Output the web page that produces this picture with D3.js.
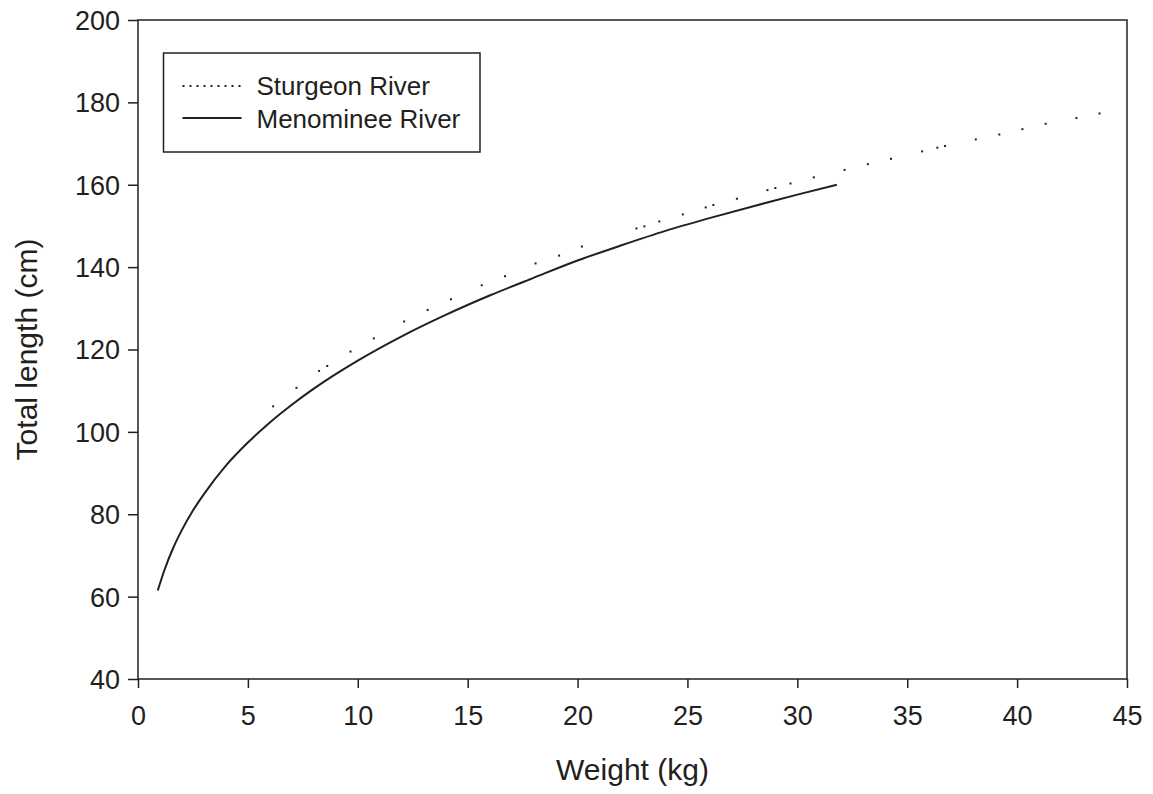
<!DOCTYPE html>
<html>
<head>
<meta charset="utf-8">
<script src="https://cdn.jsdelivr.net/npm/d3@7"></script>
<style>
  body { margin: 0; background: #fff; }
  text { font-family: "Liberation Sans", Arial, sans-serif; fill: #231f20; }
</style>
</head>
<body>
<script>
// Total length against weight for two rivers.

// Sturgeon River: individual dotted marks.
var sturgeonWeight = [6.15, 7.21, 8.24, 8.61, 9.67, 10.73, 12.11, 13.18, 14.24, 15.64,
                      16.7, 18.09, 19.16, 20.2, 22.68, 23.04, 23.72, 24.79, 25.83, 26.18,
                      27.25, 28.64, 29.0, 29.69, 30.75, 32.15, 33.21, 34.26, 35.68, 36.37,
                      36.72, 38.12, 39.19, 40.24, 41.3, 42.7, 43.75],
    sturgeonLength = [106.2, 110.7, 114.8, 116.0, 119.5, 122.7, 126.8, 129.6, 132.2, 135.6,
                      137.8, 140.9, 142.8, 145.0, 149.4, 149.9, 151.1, 152.8, 154.5, 155.1,
                      156.6, 158.7, 159.2, 160.3, 161.8, 163.6, 165.0, 166.3, 168.1, 169.0,
                      169.4, 171.0, 172.2, 173.5, 174.8, 176.2, 177.3];

// Menominee River: points along the solid curve.
var menomineeWeight = [0.9, 1.2, 1.6, 2, 2.5, 3, 4, 5, 6, 7, 8, 10, 12, 14, 16, 18,
                       20, 22, 24, 26, 28, 30, 31.8],
    menomineeLength = [61.5, 66.4, 71.8, 76.2, 80.9, 84.9, 91.8, 97.4, 102.3, 106.6, 110.5,
                       117.3, 123.2, 128.4, 133.1, 137.4, 141.6, 145.3, 148.8, 151.9,
                       154.8, 157.6, 160.0];

var xTicks = [0, 5, 10, 15, 20, 25, 30, 35, 40, 45],
    yTicks = [40, 60, 80, 100, 120, 140, 160, 180, 200],
    seriesNames = ['Sturgeon River', 'Menominee River'];

var outerWidth = 1153,
    outerHeight = 794,
    margin = { top: 20, right: 26, bottom: 115, left: 138 },
    width = outerWidth - margin.left - margin.right,
    height = outerHeight - margin.top - margin.bottom,
    ink = '#231f20';

var svg = d3.select('body').append('svg')
    .attr('width', outerWidth)
    .attr('height', outerHeight);

var g = svg.append('g')
    .attr('transform', 'translate(' + margin.left + ',' + margin.top + ')');

var x = d3.scaleLinear().domain([0, 45]).range([0, width]),
    y = d3.scaleLinear().domain([40, 200]).range([height, 0]);

// Axes with outward ticks; the frame is drawn separately.
var xAxis = g.append('g')
    .attr('transform', 'translate(0,' + height + ')')
    .call(d3.axisBottom(x).tickValues(xTicks).tickSize(9).tickSizeOuter(0).tickPadding(18));

var yAxis = g.append('g')
    .call(d3.axisLeft(y).tickValues(yTicks).tickSize(10).tickSizeOuter(0).tickPadding(8));

[xAxis, yAxis].forEach(function (a) {
  a.select('.domain').remove();
  a.selectAll('.tick line').attr('stroke', ink).attr('stroke-width', 1.5);
  a.selectAll('.tick text')
    .style('font-size', '27px')
    .style('font-family', '"Liberation Sans", Arial, sans-serif')
    .attr('fill', ink);
});
yAxis.selectAll('.tick text').attr('dy', '0.35em');

// Plot frame.
g.append('rect')
    .attr('width', width)
    .attr('height', height)
    .attr('fill', 'none')
    .attr('stroke', ink)
    .attr('stroke-width', 1.5);

// Menominee River solid curve.
var menominee = menomineeWeight.map(function (w, i) { return [w, menomineeLength[i]]; });
g.append('path')
    .datum(menominee)
    .attr('fill', 'none')
    .attr('stroke', ink)
    .attr('stroke-width', 2)
    .attr('d', d3.line()
      .x(function (d) { return x(d[0]); })
      .y(function (d) { return y(d[1]); })
      .curve(d3.curveMonotoneX));

// Sturgeon River dots.
g.selectAll('.dot')
    .data(sturgeonWeight)
  .enter().append('rect')
    .attr('class', 'dot')
    .attr('x', function (d) { return x(d) - 1; })
    .attr('y', function (d, i) { return y(sturgeonLength[i]) - 1; })
    .attr('width', 2)
    .attr('height', 2)
    .attr('fill', ink);

// Axis titles.
svg.append('text')
    .attr('x', margin.left + width / 2)
    .attr('y', 780)
    .attr('text-anchor', 'middle')
    .style('font-size', '30px')
    .text('Weight (kg)');

svg.append('text')
    .attr('transform', 'translate(37,' + (margin.top + height / 2) + ') rotate(-90)')
    .attr('text-anchor', 'middle')
    .style('font-size', '30px')
    .text('Total length (cm)');

// Legend.
var legend = svg.append('g').attr('transform', 'translate(163.5,53)');
legend.append('rect')
    .attr('width', 316.5)
    .attr('height', 99)
    .attr('fill', '#fff')
    .attr('stroke', ink)
    .attr('stroke-width', 1.5);

legend.append('line')
    .attr('x1', 19).attr('x2', 79).attr('y1', 33).attr('y2', 33)
    .attr('stroke', ink).attr('stroke-width', 2)
    .attr('stroke-dasharray', '2,5');
legend.append('line')
    .attr('x1', 19).attr('x2', 78).attr('y1', 65).attr('y2', 65)
    .attr('stroke', ink).attr('stroke-width', 2);

legend.selectAll('.label')
    .data(seriesNames)
  .enter().append('text')
    .attr('class', 'label')
    .attr('x', 93)
    .attr('y', function (d, i) { return 42 + i * 33; })
    .style('font-size', '26px')
    .text(function (d) { return d; });
</script>
</body>
</html>
